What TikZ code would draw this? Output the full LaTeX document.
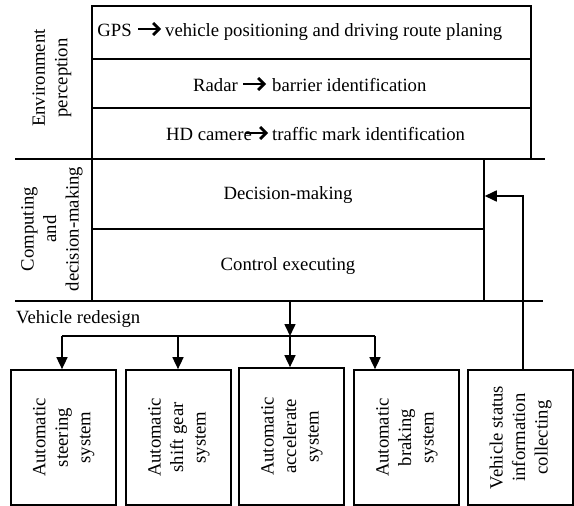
\documentclass[tikz,border=0pt]{standalone}
\usepackage{fontspec}
\setmainfont{Liberation Serif}
\usepackage{graphicx}
\usetikzlibrary{arrows.meta,calc}
\begin{document}
\begin{tikzpicture}[x=1pt,y=-1pt,
  box/.style={draw, line width=1.5pt, inner sep=0pt},
  sbox/.style={draw, line width=1.7pt, inner sep=0pt, minimum width=105pt, minimum height=135pt,
    font=\fontsize{18.7}{22.5}\selectfont},
  lbl/.style={font=\fontsize{18.7}{22.5}\selectfont, inner sep=0pt},
  arr/.style={line width=1.6pt, -{Triangle[length=12pt,width=11pt]}},
  tarr/.style={line width=2.8pt, -{Straight Barb[length=6pt,width=12pt]}},
  sep/.style={line width=1.9pt}]
\useasboundingbox (0,0) rectangle (574,506);

% top block
\node[box, minimum width=439pt, minimum height=53pt] (gpsrow) at (311.5,32.5) {};
\node[box, minimum width=439pt, minimum height=49pt] (radarrow) at (311.5,83.5) {};
\node[box, minimum width=439pt, minimum height=51pt] (hdrow) at (311.5,133.5) {};

\node[lbl, anchor=base east] (gps) at (132,36) {GPS};
\node[lbl, anchor=base west] (gpsd) at (165,36) {vehicle positioning and driving route planing};
\draw[tarr] ($(gpsd.base west)+(-27,-7)$) -- ($(gpsd.base west)+(-4,-7)$);

\node[lbl, anchor=base east] (radar) at (238,91) {Radar};
\node[lbl, anchor=base west] (radard) at (272,91) {barrier identification};
\draw[tarr] ($(radard.base west)+(-29,-7)$) -- ($(radard.base west)+(-6,-7)$);

\node[lbl, anchor=base east] (hd) at (252,140) {HD camere};
\node[lbl, anchor=base west] (hdd) at (272,140) {traffic mark identification};
\draw[tarr] ($(hdd.base west)+(-26,-7)$) -- ($(hdd.base west)+(-4,-7)$);

\node[lbl, rotate=90, align=center] (env) at (52,78) {Environment\\perception};

% middle block
\node[box, minimum width=392pt, minimum height=70pt] (decision) at (288,194) {};
\node[box, minimum width=392pt, minimum height=72pt] (control) at (288,265) {};
\node[lbl] (dtext) at (288,195) {Decision-making};
\node[lbl] (ctext) at (288,266) {Control executing};
\node[lbl, rotate=90, align=center] (comp) at (52,229) {Computing\\and\\decision-making};

% separators
\coordinate (s1L) at (15,159); \coordinate (s1R) at (545,159);
\coordinate (s2L) at (15,301); \coordinate (s2R) at (543,301);
\draw[sep] (s1L) -- (s1R);
\draw[sep] (s2L) -- (s2R);

\node[lbl, anchor=base west] (vr) at (16,323) {Vehicle redesign};

% bottom boxes
\node[sbox] (b1) at (63.5,437.5) {\rotatebox{90}{\begin{tabular}{@{}c@{}}Automatic\\steering\\system\end{tabular}}};
\node[sbox] (b2) at (178.5,437.5) {\rotatebox{90}{\begin{tabular}{@{}c@{}}Automatic\\shift gear\\system\end{tabular}}};
\node[sbox, minimum height=137pt] (b3) at (291.5,436.5) {\rotatebox{90}{\begin{tabular}{@{}c@{}}Automatic\\accelerate\\system\end{tabular}}};
\node[sbox] (b4) at (406.5,437.5) {\rotatebox{90}{\begin{tabular}{@{}c@{}}Automatic\\braking\\system\end{tabular}}};
\node[sbox] (b5) at (520.5,437.5) {\rotatebox{90}{\begin{tabular}{@{}c@{}}Vehicle status\\information\\collecting\end{tabular}}};

% distribution bus
\coordinate (busL) at (62,336);
\coordinate (bus2) at (178,336);
\coordinate (busM) at (290,336);
\coordinate (busR) at (375,336);
\draw[arr] (control.south -| busM) -- (busM);
\draw[line width=1.6pt] (busL) -- (busR);
\draw[arr] (busL) -- (busL |- b1.north);
\draw[arr] (bus2) -- (bus2 |- b2.north);
\draw[arr] (busM) -- (busM |- b3.north);
\draw[arr] (busR) -- (busR |- b4.north);

% feedback
\coordinate (fb) at (523,196);
\draw[arr] (fb |- b5.north) -- (fb) -- (decision.east |- fb);
\end{tikzpicture}
\end{document}
